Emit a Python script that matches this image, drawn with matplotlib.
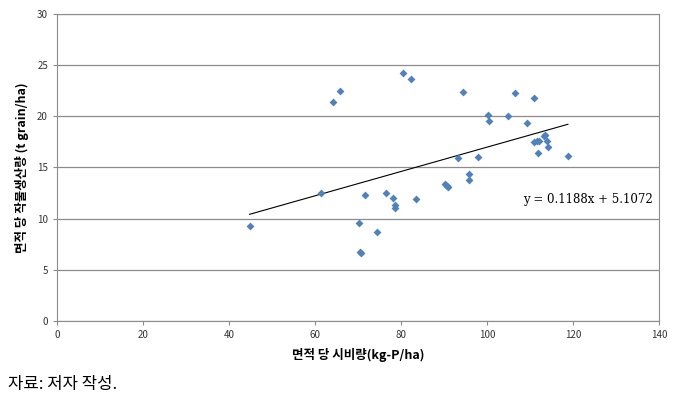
import numpy as np
import matplotlib.pyplot as plt

plt.rcParams['font.family'] = ['Noto Sans CJK KR', 'DejaVu Sans']

# fertilizer per area (kg-P/ha) and crop yield per area (t grain/ha)
fert = [44.8, 61.4, 64.1, 65.8, 70.2, 70.4, 70.8, 71.6, 74.4, 76.5,
        78.2, 78.6, 78.6, 80.4, 82.4, 83.5, 90.2, 90.6, 91.0, 93.3,
        94.3, 95.7, 95.8, 97.9, 100.3, 100.5, 104.9, 106.5, 109.4, 110.9,
        111.0, 111.5, 111.9, 112.1, 113.2, 113.5, 113.9, 114.1, 118.8]
yld = [9.3, 12.5, 21.4, 22.5, 9.6, 6.7, 6.6, 12.3, 8.7, 12.5,
       12.0, 11.3, 11.0, 24.2, 23.6, 11.9, 13.4, 13.2, 13.1, 15.9,
       22.4, 13.8, 14.4, 16.0, 20.1, 19.5, 20.0, 22.3, 19.3, 17.5,
       21.8, 17.6, 16.4, 17.6, 18.1, 18.2, 17.6, 17.0, 16.1]

slope = 0.1188
intercept = 5.1072
eq_label = "y = 0.1188x + 5.1072"

x_ticks = [0, 20, 40, 60, 80, 100, 120, 140]
y_ticks = [0, 5, 10, 15, 20, 25, 30]

fig = plt.figure(figsize=(6.76, 4.09), dpi=100)
ax = fig.add_axes([0.0843, 0.215, 0.8907, 0.751])

ax.grid(axis='y', color='#8c8c8c', linewidth=0.9)
ax.set_axisbelow(True)

ax.scatter(fert, yld, marker='D', s=16, color='#4F81BD', zorder=3, linewidths=0)

xs = np.array([min(fert), max(fert)])
ax.plot(xs, slope * xs + intercept, color='black', linewidth=0.8, zorder=2)
ax.text(108.3, 11.9, eq_label, family='DejaVu Serif', fontsize=8.5,
        va='center', ha='left')

ax.set_xlim(0, 140)
ax.set_ylim(0, 30)
ax.set_xticks(x_ticks)
ax.set_yticks(y_ticks)
for s in ax.spines.values():
    s.set_color('#8c8c8c')
ax.tick_params(axis='both', labelsize=7, colors='#8c8c8c', labelcolor='#333333',
               length=3, width=0.8)

ax.set_xlabel("면적 당 시비량(kg-P/ha)", fontsize=9, fontweight='bold', labelpad=6)
ax.set_ylabel("면적 당 작물생산량 (t grain/ha)", fontsize=9, fontweight='bold', labelpad=6)

fig.text(0.012, 0.06, "자료: 저자 작성.", fontsize=12, ha='left', va='center')

fig.savefig('out.png', dpi=100)
